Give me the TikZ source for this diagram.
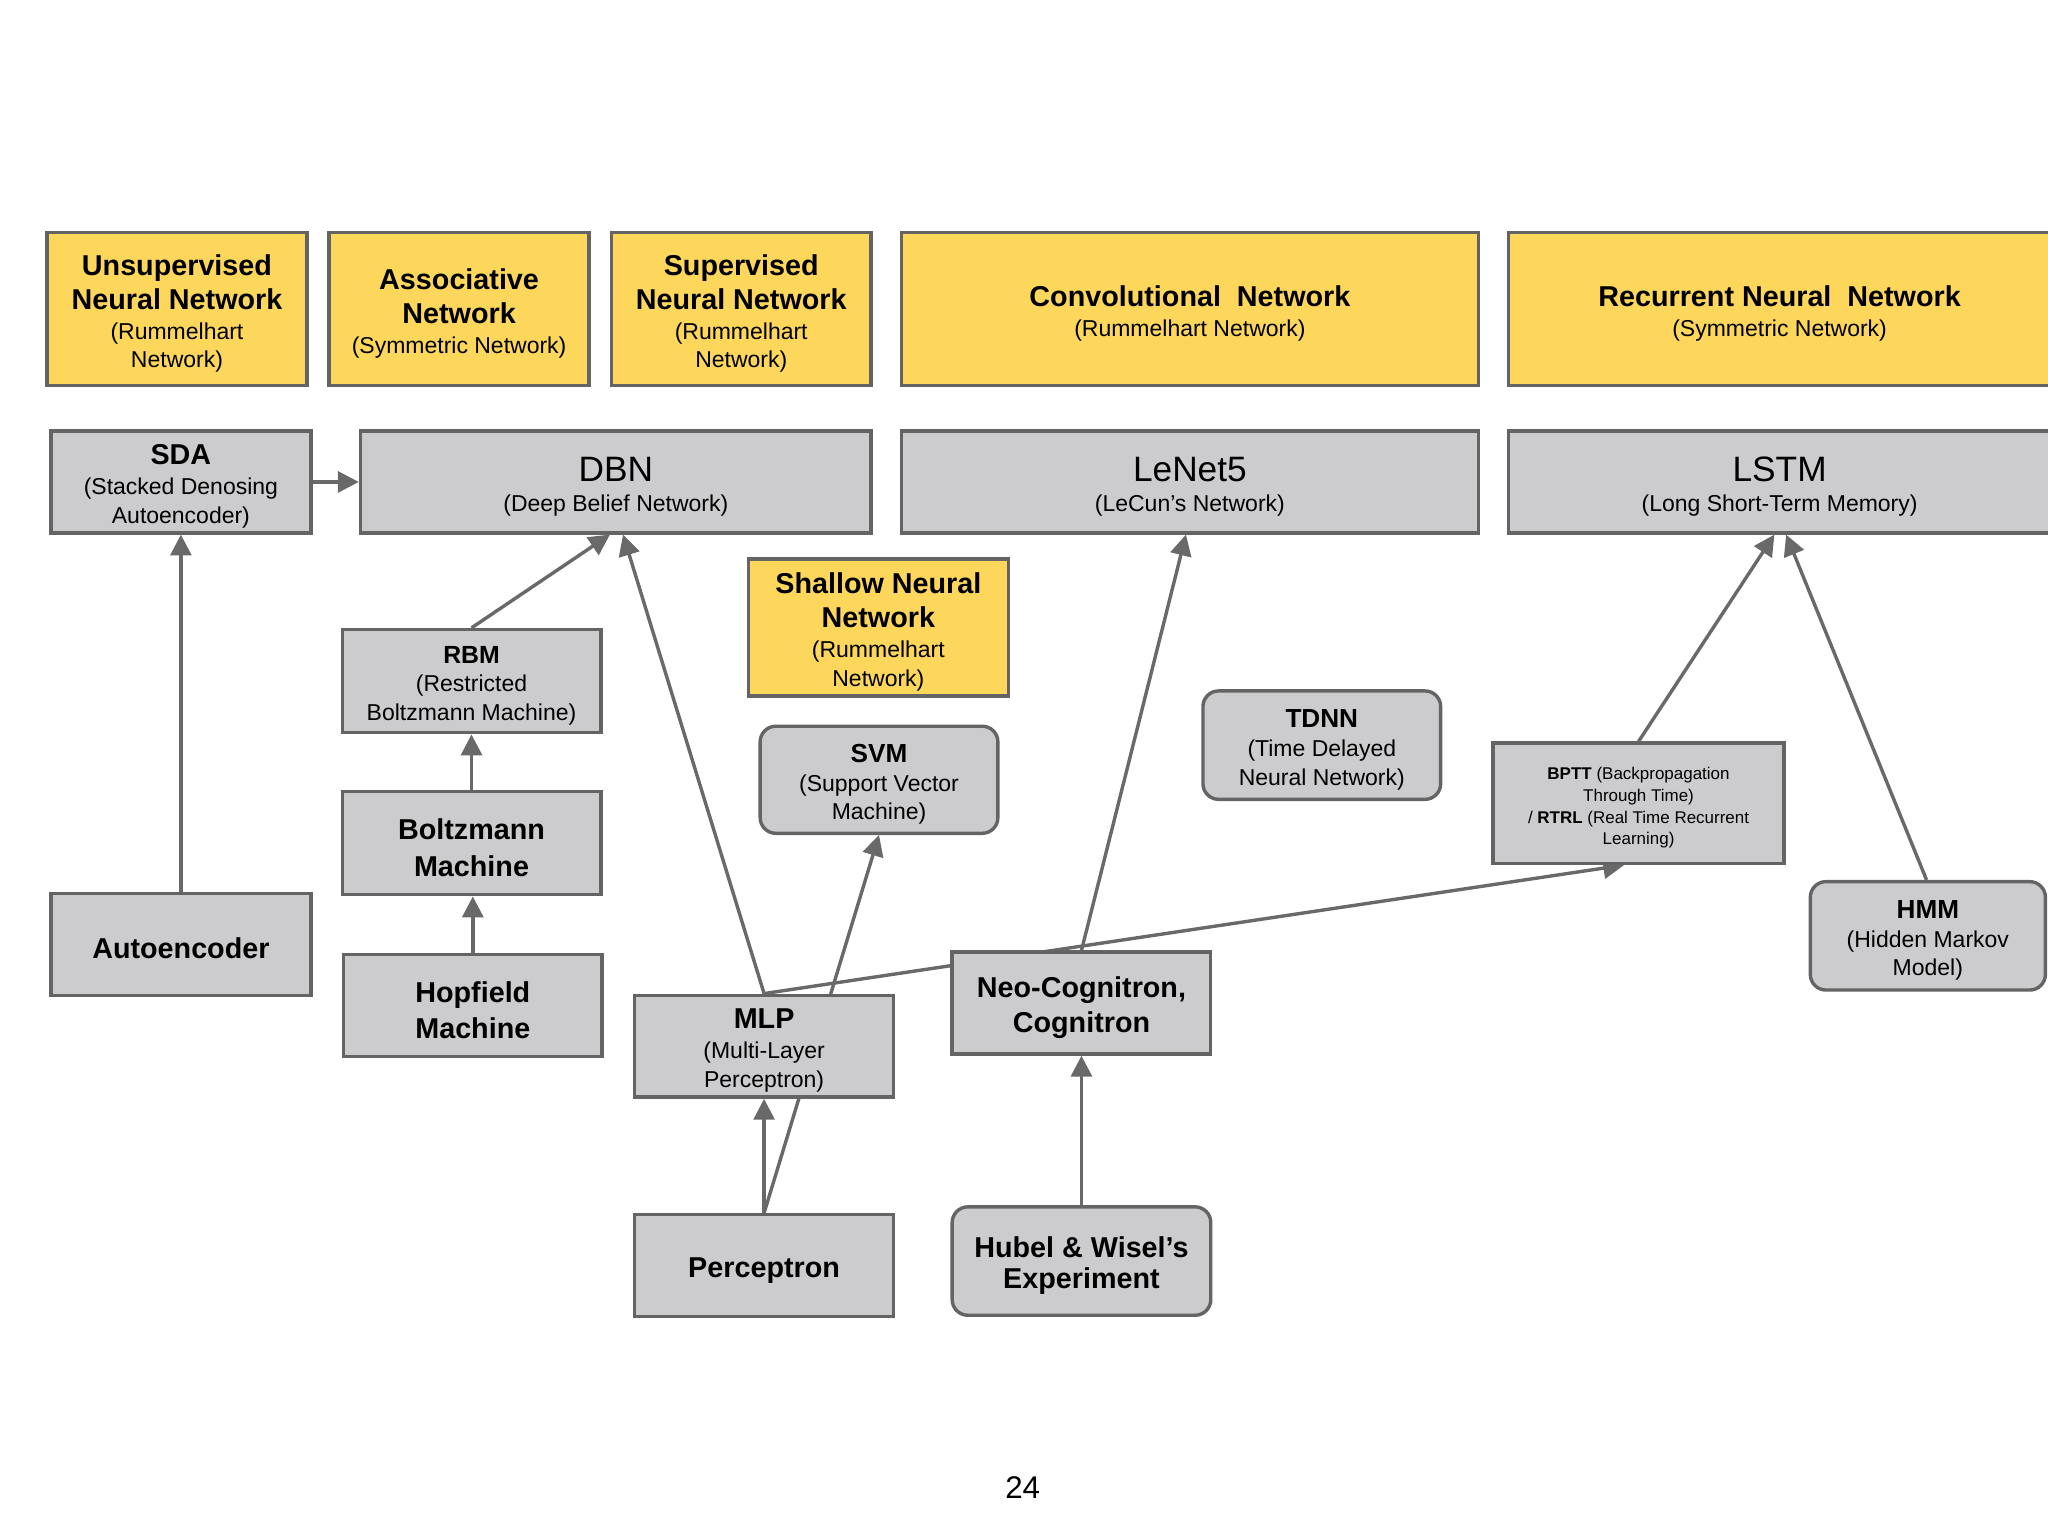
\documentclass[tikz,border=0pt]{standalone}
\usepackage{fontspec}
\setmainfont{Liberation Sans}
\usetikzlibrary{arrows.meta,backgrounds}
\definecolor{hy}{RGB}{253,215,92}
\definecolor{gf}{RGB}{204,204,207}
\definecolor{bd}{RGB}{100,100,100}
\definecolor{ln}{RGB}{105,105,105}
\tikzset{
 base/.style={draw=bd, line width=1.3pt, inner sep=0pt, align=center, font=\fontsize{8.8}{11}\selectfont, text=black},
 ybox/.style={base, fill=hy},
 gbox/.style={base, fill=gf},
 rbox/.style={gbox, rounded corners=6pt},
 conn/.style={draw=ln, line width=1.3pt, -{Triangle[length=8pt,width=8pt]}},
}
\newcommand\tb{\bfseries\fontsize{11}{13}\selectfont}
\newcommand\tl{\fontsize{13.5}{16}\selectfont}
\newcommand\bx[7]{\node[#6, minimum width={(#4-#2)*0.5pt}, minimum height={(#5-#3)*0.5pt}] (#1) at ({(#2+#4)/2},{(#3+#5)/2}) {};
 \node[#6, draw=none, fill=none, minimum width=0pt, minimum height=0pt] (#1-t) at ([yshift=-1.75pt]#1.center) {#7};}
\begin{document}
\begin{tikzpicture}[x=0.5pt,y=-0.5pt]
\useasboundingbox (0,0) rectangle (1568,1176);
% header row
\bx{h1}{36}{178}{235}{295}{ybox}{{\tb Unsupervised}\\[2pt]{\tb Neural Network}\\[0.5pt](Rummelhart\\Network)}
\bx{h2}{252}{178}{451}{295}{ybox}{{\tb Associative}\\[2pt]{\tb Network}\\[0.5pt](Symmetric Network)}
\bx{h3}{468}{178}{667}{295}{ybox}{{\tb Supervised}\\[2pt]{\tb Neural Network}\\[0.5pt](Rummelhart\\Network)}
\bx{h4}{690}{178}{1132}{295}{ybox}{{\tb Convolutional\ \ Network}\\[0.5pt](Rummelhart Network)}
\bx{h5}{1155}{178}{1570}{295}{ybox}{{\tb Recurrent Neural\ \ Network}\\[0.5pt](Symmetric Network)}
% second row
\bx{sda}{39}{330}{238}{408}{gbox}{{\tb SDA}\\[0.5pt](Stacked Denosing\\Autoencoder)}
\bx{dbn}{276}{330}{667}{408}{gbox}{{\tl DBN}\\[0.5pt](Deep Belief Network)}
\bx{lenet}{690}{330}{1132}{408}{gbox}{{\tl LeNet5}\\[0.5pt](LeCun’s Network)}
\bx{lstm}{1155}{330}{1570}{408}{gbox}{{\tl LSTM}\\[0.5pt](Long Short-Term Memory)}
% middle
\bx{shallow}{573}{428}{772}{533}{ybox}{{\tb Shallow Neural}\\[2pt]{\tb Network}\\[0.5pt](Rummelhart\\Network)}
\bx{rbm}{262}{482}{460}{561}{gbox}{{\bfseries\fontsize{9.5}{11}\selectfont RBM}\\(Restricted\\Boltzmann Machine)}
\bx{svm}{582}{556}{764}{638}{rbox}{{\bfseries\fontsize{10}{11}\selectfont SVM}\\(Support Vector\\Machine)}
\bx{bm}{262}{606}{460}{685}{gbox}{\raisebox{1pt}{\tb Boltzmann}\\[2pt]{\tb Machine}}
\bx{tdnn}{921}{529}{1103}{612}{rbox}{{\bfseries\fontsize{10}{11}\selectfont TDNN}\\(Time Delayed\\Neural Network)}
\bx{bptt}{1143}{569}{1366}{661}{gbox,font=\fontsize{6.5}{8.3}\selectfont}{{\bfseries BPTT} (Backpropagation\\Through Time)\\/ {\bfseries RTRL} (Real Time Recurrent\\Learning)}
\bx{ae}{39}{684}{238}{762}{gbox}{\raisebox{1pt}{\tb Autoencoder}}
\bx{hmm}{1386}{675}{1566}{758}{rbox}{{\bfseries\fontsize{10}{11}\selectfont HMM}\\(Hidden Markov\\Model)}
\bx{neo}{729}{729}{927}{807}{gbox}{{\tb Neo-Cognitron,}\\[2.5pt]{\tb Cognitron}}
\bx{hop}{263}{731}{461}{809}{gbox}{{\tb Hopfield}\\[2.5pt]{\tb Machine}}
\bx{mlp}{486}{762}{684}{840}{gbox}{{\tb MLP}\\[0.5pt](Multi-Layer\\Perceptron)}
\bx{perc}{486}{930}{684}{1008}{gbox}{\raisebox{0.5pt}{\tb Perceptron}}
\bx{hubel}{729}{924}{927}{1007}{rbox}{{\tb Hubel \& Wisel’s}\\[1pt]{\tb Experiment}}
\node (pg) at (783,1139) {\fontsize{12}{14}\selectfont 24};
\begin{pgfonlayer}{background}
\fill[white] (0,0) rectangle (1568,1176);
\draw[conn] (sda.east) -- (sda.east -| dbn.west);
\draw[conn] (ae.north) -- (sda.south);
\draw[conn] (rbm.north) -- ([xshift=-2.25pt]dbn.south);
\draw[conn] (mlp.north) -- ([xshift=2.75pt]dbn.south);
\draw[conn] (bm.north) -- (bm.north |- rbm.south);
\draw[conn] (hop.north) -- (hop.north |- bm.south);
\draw[conn] (perc.north) -- (mlp.south);
\draw[conn] (perc.north) -- (svm.south);
\draw[conn] (mlp.north) -- ([xshift=-5.5pt]bptt.south);
\draw[conn] (neo.north) -- ([xshift=-1.5pt]lenet.south);
\draw[conn] (hubel.north) -- (neo.south);
\draw[conn] (bptt.north) -- ([xshift=-2pt]lstm.south);
\draw[conn] ([xshift=-0.5pt]hmm.north) -- ([xshift=2.5pt]lstm.south);
\end{pgfonlayer}
\end{tikzpicture}
\end{document}
